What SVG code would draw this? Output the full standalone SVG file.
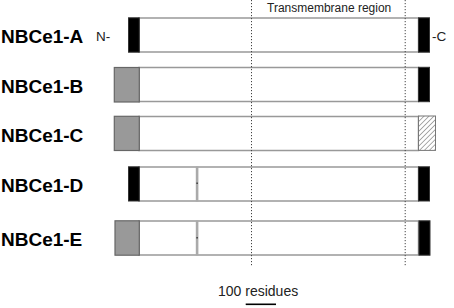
<svg xmlns="http://www.w3.org/2000/svg" width="454" height="308" viewBox="0 0 454 308">
<style>
.lbl{font-family:"Liberation Sans",Arial,sans-serif;font-weight:bold;font-size:19px;fill:#000}
.sm{font-family:"Liberation Sans",Arial,sans-serif;font-size:13.5px;fill:#222}
.bar{fill:#fff;stroke:#999;stroke-width:1.5}
.blk{fill:#000;stroke:#333;stroke-width:1}
.gry{fill:#999;stroke:#666;stroke-width:1.2}
.div{fill:#aaa;stroke:none}
.dot{fill:#222}
.guide{stroke:#444;stroke-width:1;stroke-dasharray:1.2 1.8;fill:none}
</style>
<defs>
<pattern id="hatch" patternUnits="userSpaceOnUse" width="3.5" height="3.5" patternTransform="rotate(45)">
<rect width="3.5" height="3.5" fill="#fff"/>
<line x1="0" y1="0" x2="0" y2="3.5" stroke="#777" stroke-width="1.2"/>
</pattern>
</defs>
<text class="sm" x="267" y="12" style="font-size:12px">Transmembrane region</text>
<g id="nbce1-a">
<text class="lbl" x="1" y="43">NBCe1-A</text>
<text class="sm" x="96" y="41">N-</text>
<rect class="bar" x="139" y="18" width="279.5" height="34"/>
<rect class="blk" x="128.5" y="17.8" width="10.8" height="34.4"/>
<rect class="blk" x="418.5" y="17.8" width="11" height="34.4"/>
<text class="sm" x="432" y="41">-C</text>
</g>
<g id="nbce1-b">
<text class="lbl" x="1" y="93">NBCe1-B</text>
<rect class="bar" x="139" y="67.5" width="279.5" height="34"/>
<rect class="gry" x="114.3" y="67.5" width="25" height="34.5"/>
<rect class="blk" x="418.5" y="67.3" width="11" height="34.4"/>
</g>
<g id="nbce1-c">
<text class="lbl" x="1" y="142">NBCe1-C</text>
<rect class="bar" x="139" y="116.5" width="279.5" height="34"/>
<rect class="gry" x="114.3" y="116.3" width="25" height="34.2"/>
<rect x="418.5" y="116" width="17" height="34.4" fill="url(#hatch)" stroke="#777" stroke-width="1"/>
</g>
<g id="nbce1-d">
<text class="lbl" x="1" y="191.5">NBCe1-D</text>
<rect class="bar" x="139" y="167" width="279.5" height="34"/>
<rect class="div" x="195.8" y="166.5" width="2.6" height="35"/>
<rect class="dot" x="196.5" y="182.5" width="1.2" height="1.5"/>
<rect class="blk" x="128.5" y="166.8" width="10.8" height="34.2"/>
<rect class="blk" x="418.5" y="166.8" width="11" height="34.2"/>
</g>
<g id="nbce1-e">
<text class="lbl" x="1" y="246">NBCe1-E</text>
<rect class="bar" x="139" y="221" width="279.5" height="34"/>
<rect class="div" x="195.8" y="220.5" width="2.6" height="35"/>
<rect class="dot" x="196.5" y="237" width="1.2" height="1.5"/>
<rect class="gry" x="115" y="220.8" width="24.3" height="34.4"/>
<rect class="blk" x="419" y="220.8" width="11" height="34.4"/>
</g>
<g id="connectors">
<line class="guide" x1="251.5" y1="0" x2="251.5" y2="267"/>
<line class="guide" x1="405.2" y1="0" x2="405.2" y2="267"/>
</g>
<g id="scale">
<text class="sm" x="218" y="296" style="font-size:14px">100 residues</text>
<line x1="245.7" y1="304.3" x2="276" y2="304.3" stroke="#000" stroke-width="1.6"/>
</g>
</svg>
